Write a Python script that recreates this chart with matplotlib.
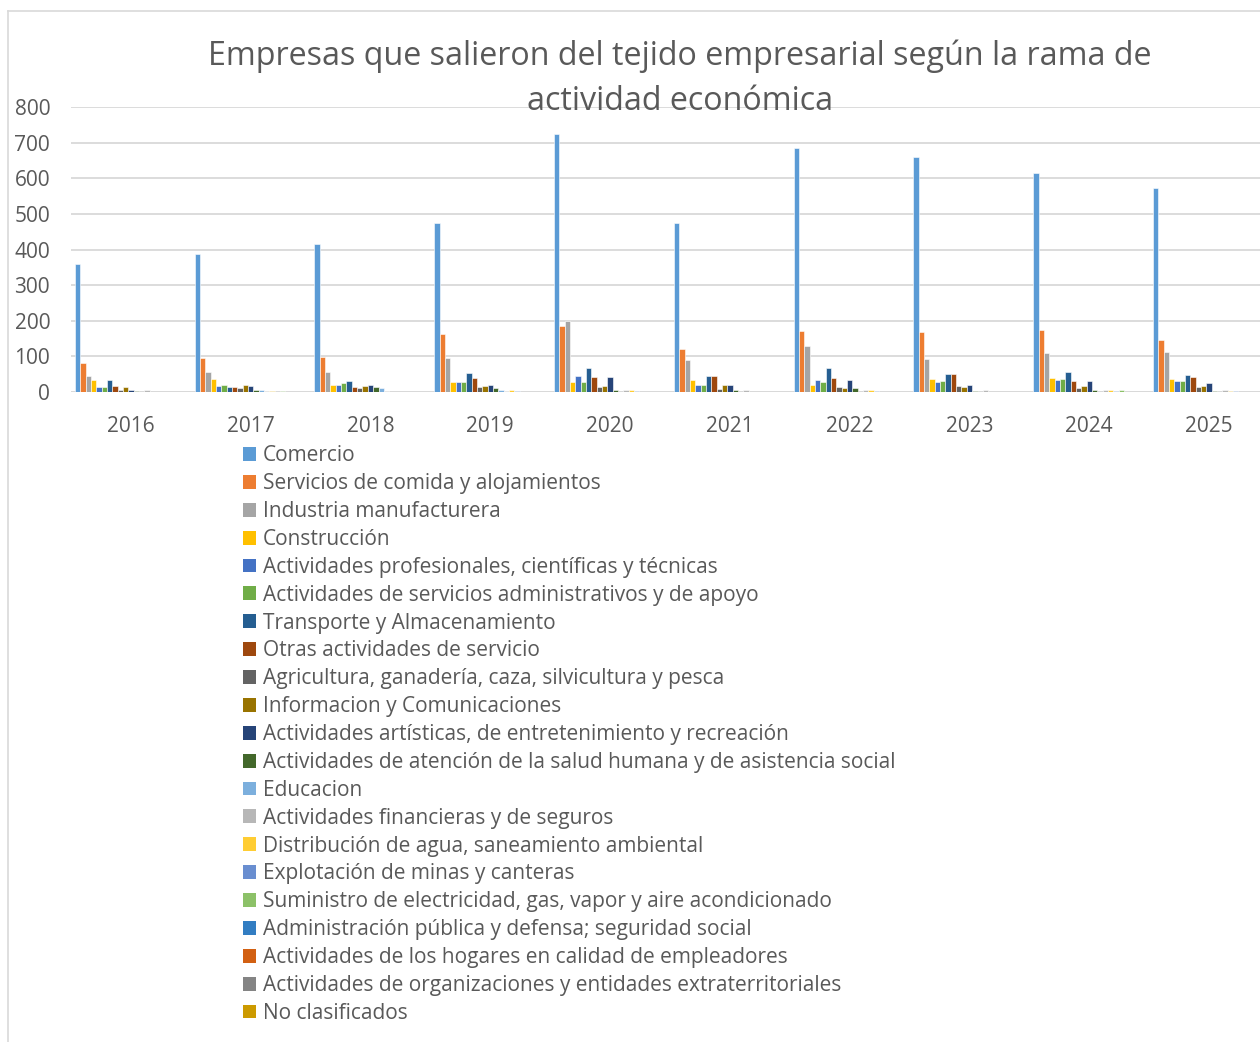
import numpy as np
import matplotlib.pyplot as plt
from matplotlib.patches import Patch

plt.rcParams['font.family'] = ['Open Sans', 'DejaVu Sans']

years = ["2016", "2017", "2018", "2019", "2020", "2021", "2022", "2023", "2024", "2025"]

categories = [
    "Comercio",
    "Servicios de comida y alojamientos",
    "Industria manufacturera",
    "Construcción",
    "Actividades profesionales, científicas y técnicas",
    "Actividades de servicios administrativos y de apoyo",
    "Transporte y Almacenamiento",
    "Otras actividades de servicio",
    "Agricultura, ganadería, caza, silvicultura y pesca",
    "Informacion y Comunicaciones",
    "Actividades artísticas, de entretenimiento y recreación",
    "Actividades de atención de la salud humana y de asistencia social",
    "Educacion",
    "Actividades financieras y de seguros",
    "Distribución de agua, saneamiento ambiental",
    "Explotación de minas y canteras",
    "Suministro de electricidad, gas, vapor y aire acondicionado",
    "Administración pública y defensa; seguridad social",
    "Actividades de los hogares en calidad de empleadores",
    "Actividades de organizaciones y entidades extraterritoriales",
    "No clasificados",
]

comercio = [358, 386, 415, 475, 723, 474, 684, 659, 614, 574]
servicios = [81, 95, 98, 164, 186, 120, 171, 169, 175, 145]
industria = [45, 55, 56, 95, 199, 90, 128, 94, 109, 113]
construccion = [35, 36, 21, 29, 29, 34, 21, 36, 38, 36]
profesionales = [15, 18, 19, 29, 44, 21, 34, 29, 34, 31]
administrativos = [14, 21, 26, 29, 29, 21, 29, 30, 36, 31]
transporte = [34, 15, 32, 52, 66, 46, 66, 51, 56, 49]
otras = [17, 15, 15, 38, 41, 44, 38, 50, 32, 41]
agricultura = [7, 10, 11, 15, 14, 8, 14, 16, 10, 14]
informacion = [15, 21, 18, 18, 17, 19, 12, 14, 17, 17]
artisticas = [7, 18, 21, 21, 41, 21, 33, 21, 30, 25]
salud = [2, 7, 13, 11, 7, 7, 11, 2, 7, 4]
educacion = [1, 6, 10, 7, 0, 0, 1, 0, 0, 1]
financieras = [5, 4, 2, 2, 5, 5, 5, 5, 5, 7]
agua = [1, 2, 1, 6, 6, 1, 5, 1, 5, 4]
minas = [0, 1, 1, 4, 2, 1, 2, 1, 2, 4]
electricidad = [1, 2, 0, 1, 1, 0, 1, 0, 5, 0]
admin_publica = [1, 1, 0, 0, 0, 0, 0, 0, 0, 0]
hogares = [0, 0, 0, 0, 0, 0, 0, 0, 0, 0]
organizaciones = [0, 0, 0, 0, 0, 0, 0, 0, 0, 0]
no_clasificados = [0, 0, 0, 0, 0, 0, 0, 0, 0, 0]

series = [comercio, servicios, industria, construccion, profesionales,
          administrativos, transporte, otras, agricultura, informacion,
          artisticas, salud, educacion, financieras, agua, minas,
          electricidad, admin_publica, hogares, organizaciones, no_clasificados]

colors = ["#5B9BD5", "#ED7D31", "#A5A5A5", "#FFC000", "#4472C4", "#70AD47",
          "#255E91", "#9E480E", "#636363", "#997300", "#264478", "#43682B",
          "#7CAFDD", "#B7B7B7", "#FFCD33", "#698ED0", "#8CC168", "#327DC2",
          "#D26012", "#848484", "#CC9A00"]

txt = "#595959"

fig = plt.figure(figsize=(12.6, 10.42), dpi=100)
W, H = 1260, 1042
ax = fig.add_axes([71 / W, (H - 392) / H, (1269 - 71) / W, (392 - 107) / H])

x = np.arange(len(years))
n = len(series)
w = 0.935 / n
for i, (vals, c) in enumerate(zip(series, colors)):
    ax.bar(x + (i - (n - 1) / 2) * w, vals, width=w, color=c,
           edgecolor="white", linewidth=0.4, zorder=3)

ax.set_xlim(-0.5, len(years) - 0.5)
ax.set_ylim(0, 800)
ax.set_yticks(range(0, 801, 100))
ax.set_xticks(x)
ax.set_xticklabels(years)
ax.grid(axis="y", color="#D9D9D9", linewidth=1.3, zorder=0)
for s in ax.spines.values():
    s.set_visible(False)
ax.axhline(0, color="#D9D9D9", linewidth=1.3, zorder=2)
ax.tick_params(axis="both", length=0, labelsize=15, labelcolor=txt)
ax.tick_params(axis="y", pad=15)
ax.tick_params(axis="x", pad=17)

fig.text(680 / W, 1 - 56 / H, "Empresas que salieron del tejido empresarial según la rama de",
         ha="center", va="center", fontsize=23.2, color=txt)
fig.text(680 / W, 1 - 102 / H, "actividad económica",
         ha="center", va="center", fontsize=23.2, color=txt)

handles = [Patch(facecolor=c, edgecolor="none") for c in colors]
fig.legend(handles, categories, loc="upper left",
           bbox_to_anchor=(234.5 / W, 1 - 437 / H), frameon=False,
           fontsize=15, labelcolor=txt, handlelength=0.65, handleheight=0.65,
           handletextpad=0.3, labelspacing=0.33, borderaxespad=0)

# outer chart border
fig.add_artist(plt.Line2D([8 / W, 8 / W], [0, 1 - 11 / H], transform=fig.transFigure,
                          color="#D9D9D9", linewidth=1.2))
fig.add_artist(plt.Line2D([8 / W, 1], [1 - 11 / H, 1 - 11 / H], transform=fig.transFigure,
                          color="#D9D9D9", linewidth=1.2))

fig.savefig("out.png", dpi=100)
